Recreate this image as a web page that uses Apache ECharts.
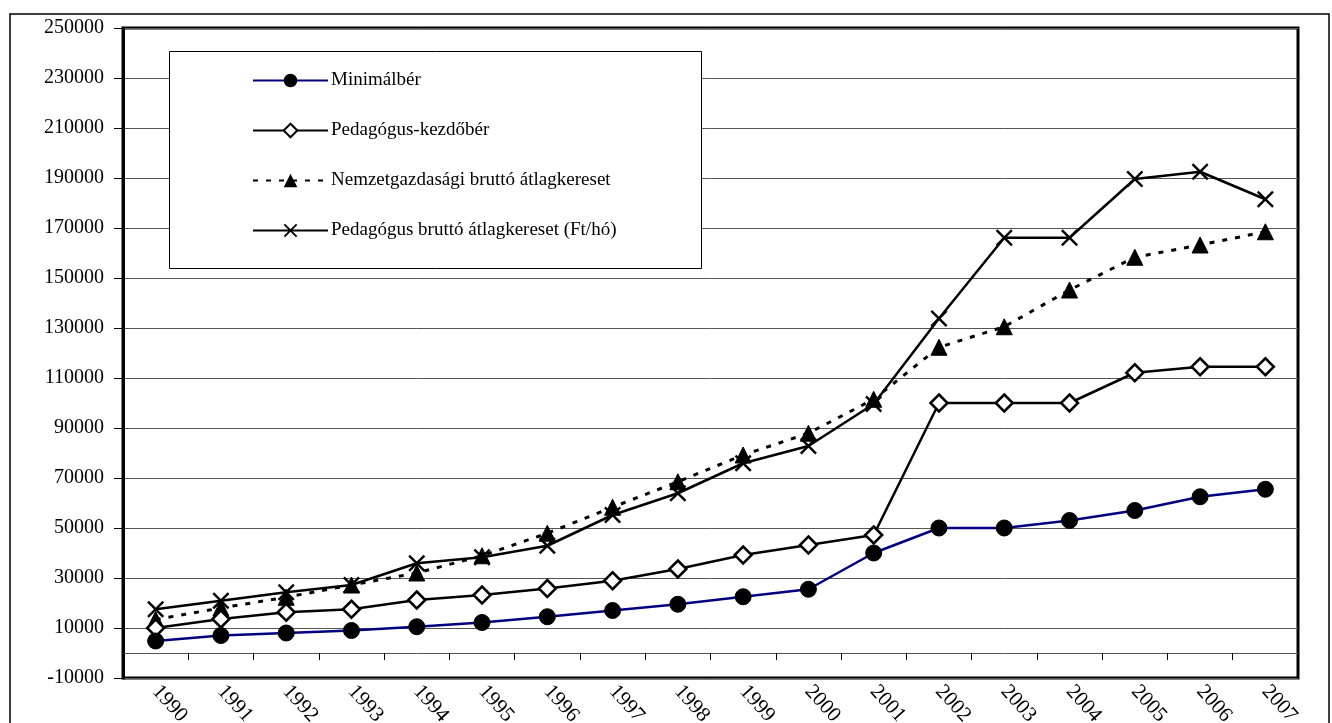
<!DOCTYPE html>
<html lang="hu">

<head>
    <meta charset="UTF-8">
    <title>Bérek alakulása</title>
    <script src="https://cdn.jsdelivr.net/npm/echarts@6/dist/echarts.min.js"></script>
    <style>
        * {
            margin: 0;
            padding: 0;
        }

        html,
        body {
            width: 100%;
            height: 100%;
            background: #fff;
        }
    </style>
</head>

<body>
    <div id="main" style="width: 1332px;height:723px;"></div>
</body>
<script>
    // évek
    var years = ['1990', '1991', '1992', '1993', '1994', '1995', '1996', '1997', '1998',
        '1999', '2000', '2001', '2002', '2003', '2004', '2005', '2006', '2007'];

    // Ft/hó, leolvasva az ábráról
    var minimalber = [4800, 7000, 8000, 9000, 10500, 12200, 14500, 17000, 19500,
        22500, 25500, 40000, 50000, 50000, 53000, 57000, 62500, 65500];
    var kezdober = [10000, 13600, 16300, 17500, 21200, 23200, 25800, 28900, 33600,
        39200, 43200, 47200, 100000, 100000, 100000, 112100, 114500, 114500];
    var nemzetgazdasagi = [13400, 18000, 22300, 27200, 32000, 38900, 47900, 58300, 68500,
        79200, 87900, 101500, 122300, 130500, 145200, 158300, 163200, 168500];
    var pedagogusBrutto = [17500, 20900, 24300, 27200, 35900, 38300, 42900, 55200, 63900,
        75900, 82800, 99600, 133800, 166100, 166100, 189600, 192500, 181500];

    var seriesNames = ['Minimálbér', 'Pedagógus-kezdőbér', 'Nemzetgazdasági bruttó átlagkereset',
        'Pedagógus bruttó átlagkereset (Ft/hó)'];

    // X jel (két keskeny sáv)
    var crossPath = 'path://M0,1 L1,0 L10,9 L9,10 Z M9,0 L10,1 L1,10 L0,9 Z';
    var serif = 'Liberation Serif';

    var myChart = echarts.init(document.getElementById('main'));
    myChart.setOption({
        animation: false,
        backgroundColor: '#fff',
        textStyle: { fontFamily: serif, color: '#000' },
        graphic: [
            {
                // külső keret
                type: 'rect',
                shape: { x: 10, y: 14, width: 1319, height: 720 },
                style: { fill: 'none', stroke: '#000', lineWidth: 1.5 },
                z: -1
            },
            {
                // jelmagyarázat doboza
                type: 'rect',
                shape: { x: 169.5, y: 51.5, width: 532, height: 217 },
                style: { fill: '#fff', stroke: '#000', lineWidth: 1 },
                z: 5
            }
        ],
        legend: {
            orient: 'vertical',
            left: 247,
            top: 66,
            itemWidth: 75,
            itemHeight: 17,
            itemGap: 31,
            z: 10,
            textStyle: { fontFamily: serif, fontSize: 19, color: '#000', padding: [0, 0, 0, -2] },
            data: seriesNames
        },
        grid: {
            show: true,
            left: 123,
            right: 34,
            top: 28,
            bottom: 45,
            outerBoundsMode: 'none',
            containLabel: false,
            borderColor: '#000',
            borderWidth: 3
        },
        xAxis: {
            type: 'category',
            data: years,
            boundaryGap: true,
            axisLine: { onZero: true, lineStyle: { color: '#555', width: 1 } },
            axisTick: { show: true, length: 7, interval: 0, lineStyle: { color: '#000' } },
            axisLabel: {
                interval: 0,
                rotate: -48,
                margin: 10,
                fontFamily: serif,
                fontSize: 21,
                color: '#000'
            }
        },
        yAxis: {
            type: 'value',
            min: -10000,
            max: 250000,
            interval: 20000,
            axisLine: { show: true, lineStyle: { color: '#000', width: 3 } },
            axisTick: { show: true, length: 9, lineStyle: { color: '#000' } },
            axisLabel: {
                margin: 19,
                fontFamily: serif,
                fontSize: 20,
                color: '#000',
                formatter: function (v) { return String(v); }
            },
            splitLine: { show: true, lineStyle: { color: '#555', width: 1 } }
        },
        series: [
            {
                name: seriesNames[0],
                type: 'line',
                data: minimalber,
                symbol: 'circle',
                symbolSize: 16,
                lineStyle: { color: '#000080', width: 2.5 },
                itemStyle: { color: '#000', borderColor: '#000' },
                z: 4
            },
            {
                name: seriesNames[1],
                type: 'line',
                data: kezdober,
                symbol: 'diamond',
                symbolSize: 17,
                lineStyle: { color: '#000', width: 2.5 },
                itemStyle: { color: '#fff', borderColor: '#000', borderWidth: 2.5 },
                z: 3
            },
            {
                name: seriesNames[2],
                type: 'line',
                data: nemzetgazdasagi,
                symbol: 'triangle',
                symbolSize: 16,
                lineStyle: { color: '#000', width: 3, type: [5, 8] },
                itemStyle: { color: '#000', borderColor: '#000' },
                z: 2
            },
            {
                name: seriesNames[3],
                type: 'line',
                data: pedagogusBrutto,
                symbol: crossPath,
                symbolSize: 17,
                lineStyle: { color: '#000', width: 2.5 },
                itemStyle: { color: '#000', borderColor: '#000', borderWidth: 0 },
                z: 3
            }
        ]
    });
</script>

</html>
